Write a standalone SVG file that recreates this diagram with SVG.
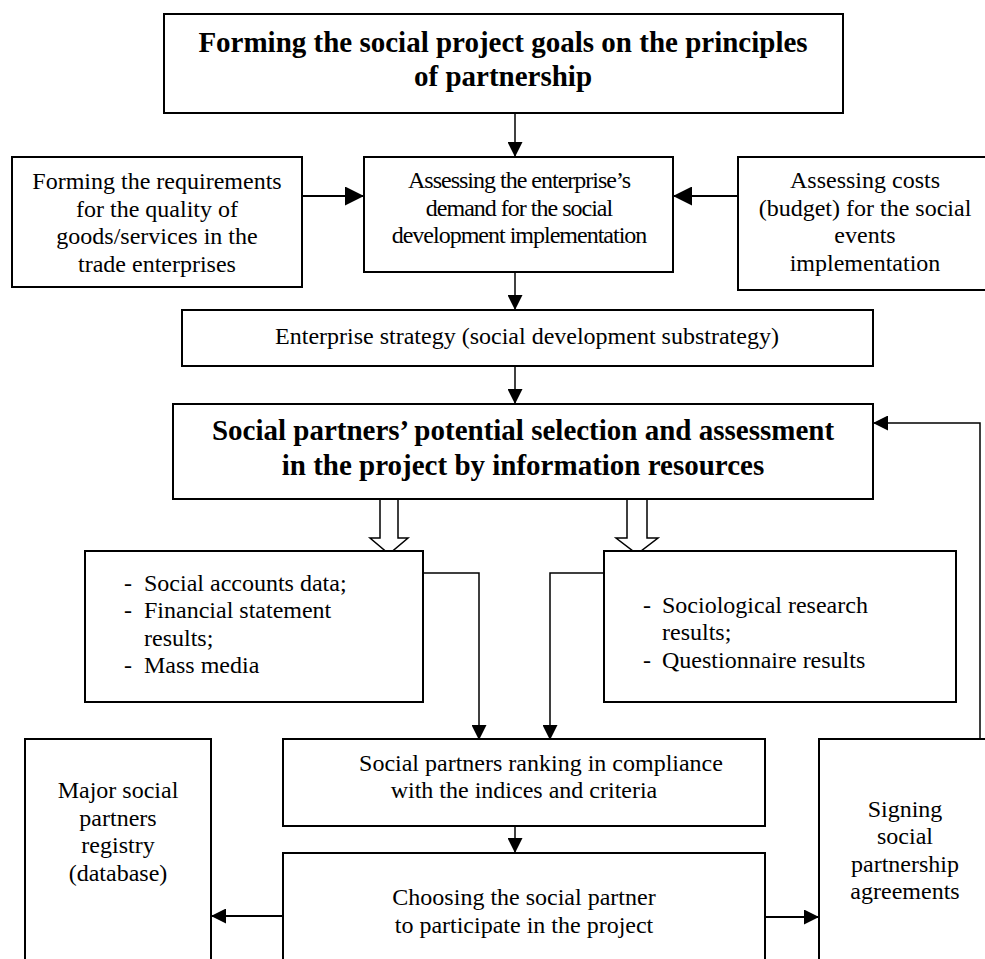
<svg xmlns="http://www.w3.org/2000/svg" width="985" height="959" viewBox="0 0 985 959">
<style>
.box{fill:#fff;stroke:#000;stroke-width:2}
.t{font-family:"Liberation Serif","Times New Roman",serif;font-size:24px;fill:#000}
.b{font-family:"Liberation Serif","Times New Roman",serif;font-size:29px;font-weight:bold;fill:#000}
.c{text-anchor:middle}
.cond{letter-spacing:-1px}
.ln{fill:none;stroke:#000;stroke-width:1.5}
.lnb{fill:none;stroke:#000;stroke-width:2}
.hollow{fill:#fff;stroke:#000;stroke-width:1.5}
</style>
<defs>
<marker id="ah" markerUnits="userSpaceOnUse" markerWidth="16" markerHeight="15" refX="15" refY="7.5" orient="auto">
<path d="M0,0 L15,7.5 L0,15 Z" fill="#000"/>
</marker>
<marker id="ahl" markerUnits="userSpaceOnUse" markerWidth="20" markerHeight="19" refX="19" refY="9.5" orient="auto">
<path d="M0,0 L19,9.5 L0,19 Z" fill="#000"/>
</marker>
</defs>
<rect width="985" height="959" fill="#fff"/>

<g id="connectors">
<line class="ln" x1="515" y1="113" x2="515" y2="157" marker-end="url(#ah)"/>
<line class="lnb" x1="302" y1="196" x2="364" y2="196" marker-end="url(#ahl)"/>
<line class="lnb" x1="738" y1="196" x2="673" y2="196" marker-end="url(#ahl)"/>
<line class="ln" x1="515" y1="272" x2="515" y2="310" marker-end="url(#ah)"/>
<line class="ln" x1="515" y1="366" x2="515" y2="404" marker-end="url(#ah)"/>
<polygon class="hollow" points="380,499 398,499 398,538 408,538 389,554 370,538 380,538"/>
<polygon class="hollow" points="627,499 647,499 647,538 658,538 637,554 616,538 627,538"/>
<polyline class="ln" points="423,573 479,573 479,740" marker-end="url(#ah)"/>
<polyline class="ln" points="604,573 550,573 550,740" marker-end="url(#ah)"/>
<polyline class="ln" points="980,745 980,423 873,423" marker-end="url(#ah)"/>
<line class="ln" x1="515" y1="826" x2="515" y2="853" marker-end="url(#ah)"/>
<line class="lnb" x1="283" y1="916" x2="211" y2="916" marker-end="url(#ah)"/>
<line class="lnb" x1="765" y1="917" x2="819" y2="917" marker-end="url(#ah)"/>
</g>

<g id="goals">
<rect class="box" x="164" y="14" width="679" height="99"/>
<text class="b c" x="503" y="52">Forming the social project goals on the principles</text>
<text class="b c" x="503" y="86">of partnership</text>
</g>

<g id="requirements">
<rect class="box" x="12" y="157" width="290" height="130"/>
<text class="t c" x="157" y="189">Forming the requirements</text>
<text class="t c" x="157" y="217">for the quality of</text>
<text class="t c" x="157" y="244">goods/services in the</text>
<text class="t c" x="157" y="272">trade enterprises</text>
</g>

<g id="demand">
<rect class="box" x="364" y="157" width="309" height="115"/>
<text class="t c cond" x="519" y="188">Assessing the enterprise’s</text>
<text class="t c cond" x="519" y="216">demand for the social</text>
<text class="t c cond" x="519" y="243">development implementation</text>
</g>

<g id="costs">
<rect class="box" x="738" y="157" width="256" height="133"/>
<text class="t c" x="865" y="188">Assessing costs</text>
<text class="t c" x="865" y="216">(budget) for the social</text>
<text class="t c" x="865" y="243">events</text>
<text class="t c" x="865" y="271">implementation</text>
</g>

<g id="strategy">
<rect class="box" x="182" y="310" width="691" height="56"/>
<text class="t c" x="527" y="344">Enterprise strategy (social development substrategy)</text>
</g>

<g id="selection">
<rect class="box" x="173" y="404" width="700" height="95"/>
<text class="b c" x="523" y="440">Social partners’ potential selection and assessment</text>
<text class="b c" x="523" y="475">in the project by information resources</text>
</g>

<g id="sources-left">
<rect class="box" x="85" y="551" width="338" height="151"/>
<text class="t" x="124" y="591">-</text>
<text class="t" x="144" y="591">Social accounts data;</text>
<text class="t" x="124" y="618">-</text>
<text class="t" x="144" y="618">Financial statement</text>
<text class="t" x="144" y="646">results;</text>
<text class="t" x="124" y="673">-</text>
<text class="t" x="144" y="673">Mass media</text>
</g>

<g id="sources-right">
<rect class="box" x="604" y="551" width="352" height="151"/>
<text class="t" x="643" y="613">-</text>
<text class="t" x="662" y="613">Sociological research</text>
<text class="t" x="662" y="640">results;</text>
<text class="t" x="643" y="668">-</text>
<text class="t" x="662" y="668">Questionnaire results</text>
</g>

<g id="registry">
<rect class="box" x="25" y="739" width="186" height="240"/>
<text class="t c" x="118" y="798">Major social</text>
<text class="t c" x="118" y="826">partners</text>
<text class="t c" x="118" y="853">registry</text>
<text class="t c" x="118" y="881">(database)</text>
</g>

<g id="ranking">
<rect class="box" x="283" y="739" width="482" height="87"/>
<text class="t c" x="541" y="771">Social partners ranking in compliance</text>
<text class="t c" x="524" y="798">with the indices and criteria</text>
</g>

<g id="choosing">
<rect class="box" x="283" y="853" width="482" height="126"/>
<text class="t c" x="524" y="905">Choosing the social partner</text>
<text class="t c" x="524" y="933">to participate in the project</text>
</g>

<g id="signing">
<rect class="box" x="819" y="739" width="176" height="240"/>
<text class="t c" x="905" y="817">Signing</text>
<text class="t c" x="905" y="844">social</text>
<text class="t c" x="905" y="872">partnership</text>
<text class="t c" x="905" y="899">agreements</text>
</g>
</svg>
